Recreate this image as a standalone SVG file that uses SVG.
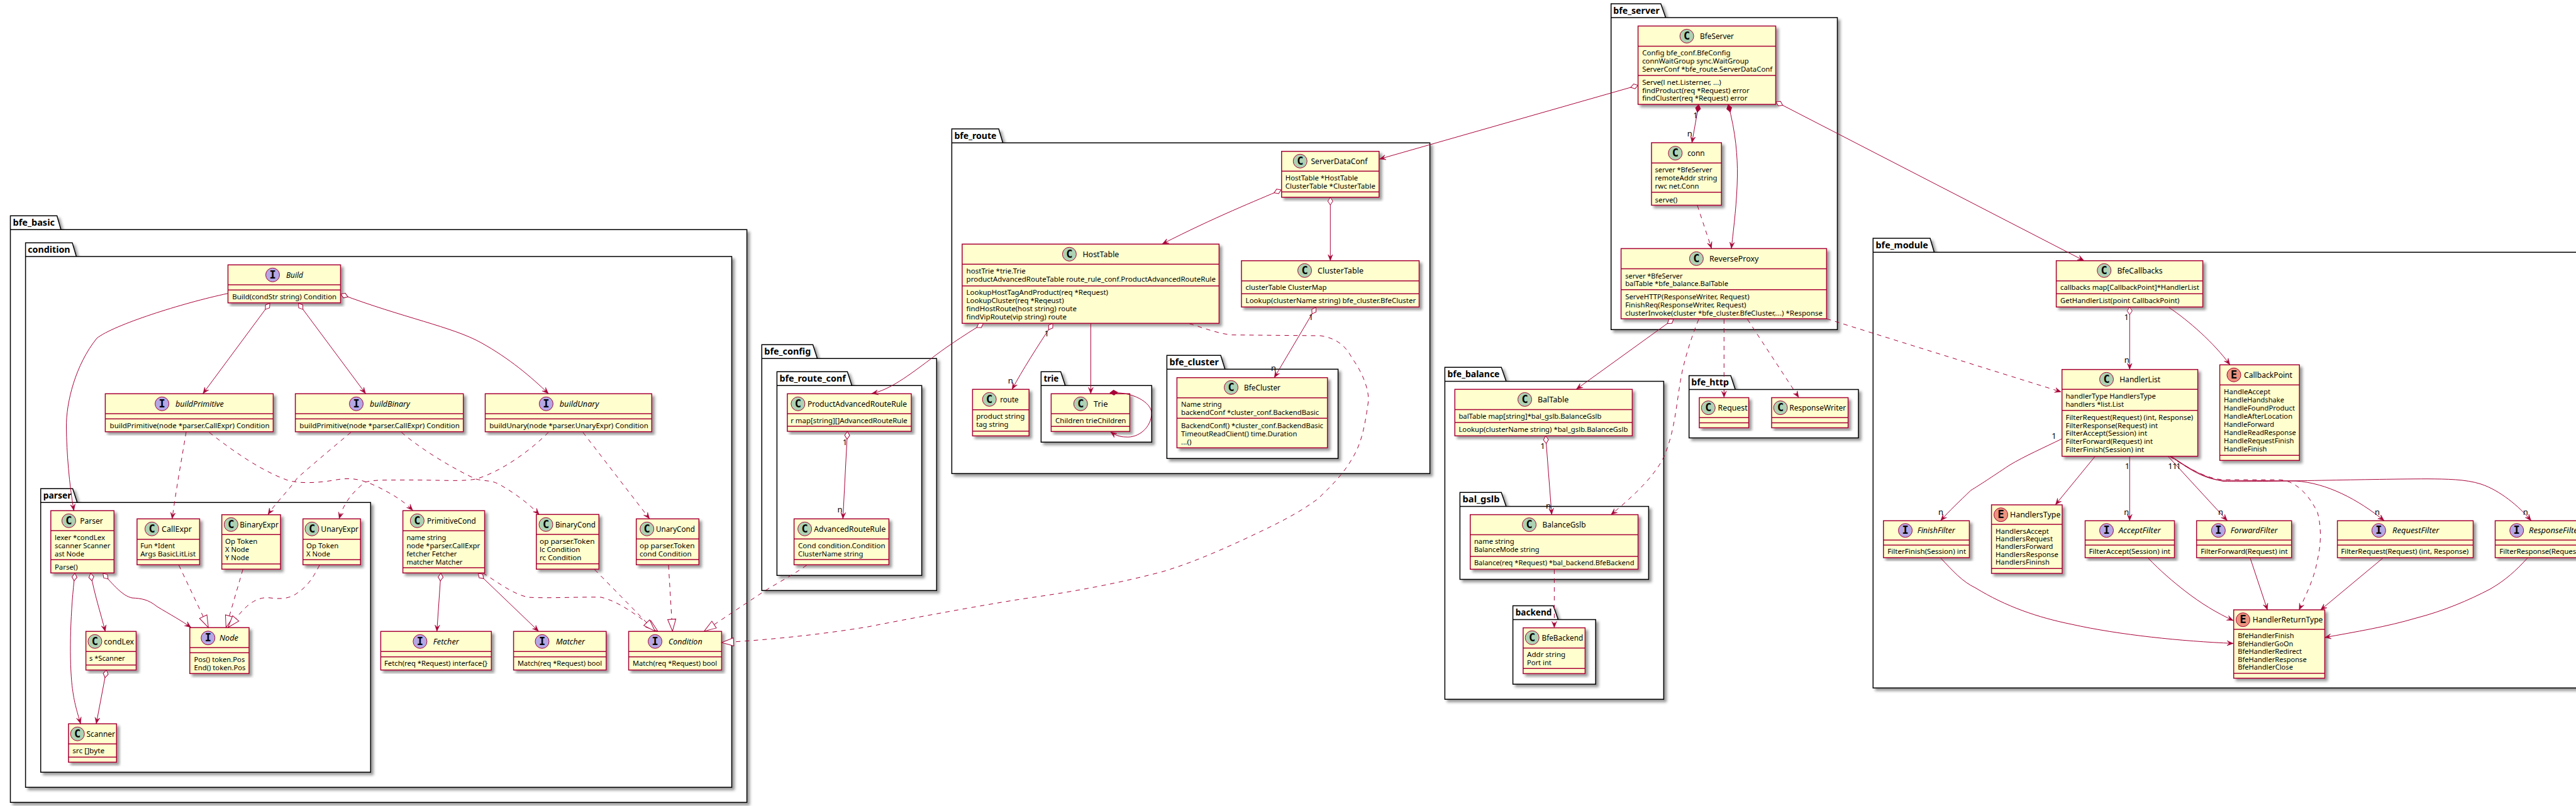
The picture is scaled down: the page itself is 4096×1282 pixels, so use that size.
<svg xmlns="http://www.w3.org/2000/svg" width="4096" height="1282" viewBox="0 0 4096 1282">
<style>
text{font-family:"Noto Sans","Open Sans","Liberation Sans",sans-serif;fill:#000}
.p{fill:#fff;stroke:#000;stroke-width:1.5;filter:url(#s)}
.pt{font-size:14px;font-weight:700}
.b{fill:#FEFECE;stroke:#A80036;stroke-width:1.5;filter:url(#s)}
.d{fill:none;stroke:#A80036;stroke-width:1.5}
.cc,.ci,.ce{stroke:#A80036;stroke-width:1}
.cc{fill:#ADD1B2}.ci{fill:#B4A7E5}.ce{fill:#EB937F}
.l{font-family:"DejaVu Sans Mono","Liberation Mono",monospace;font-size:17px;font-weight:700;text-anchor:middle}
.h{font-size:12px}.it{font-style:italic}.m{font-size:11.5px}
.c{font-size:13px;text-anchor:middle}
#connectors path{fill:none;stroke:#A80036;stroke-width:1}
#connectors .k{stroke-dasharray:7 7}
#connectors .a,#connectors .oa,#connectors .fa{marker-end:url(#ar)}
#connectors .oa{marker-start:url(#od)}
#connectors .fa{marker-start:url(#fd)}
#connectors .t{marker-end:url(#tr)}
</style>
<defs>
<filter id="s" x="-5%" y="-5%" width="115%" height="115%"><feDropShadow dx="4" dy="4" stdDeviation="2" flood-color="#000" flood-opacity="0.4"/></filter>
<marker id="ar" markerUnits="userSpaceOnUse" markerWidth="12" markerHeight="12" refX="10" refY="6" orient="auto"><path d="M10,6L0,2L4,6L0,10Z" fill="#A80036" stroke="#A80036" stroke-width="0.5"/></marker>
<marker id="od" markerUnits="userSpaceOnUse" markerWidth="14" markerHeight="12" refX="1" refY="6" orient="auto"><path d="M1,6L7,2L13,6L7,10Z" fill="#fff" stroke="#A80036" stroke-width="1"/></marker>
<marker id="fd" markerUnits="userSpaceOnUse" markerWidth="14" markerHeight="12" refX="1" refY="6" orient="auto"><path d="M1,6L7,2L13,6L7,10Z" fill="#A80036" stroke="#A80036" stroke-width="1"/></marker>
<marker id="tr" markerUnits="userSpaceOnUse" markerWidth="22" markerHeight="18" refX="20" refY="9" orient="auto"><path d="M1,2.5L20,9L1,15.5Z" fill="#fff" stroke="#A80036" stroke-width="1"/></marker>
</defs>
<rect width="4096" height="1282" fill="#fff"/>

<g id="packages">
<g id="pkg_bfe_basic"><path class="p" d="M16.5,365.3V343.3H90.6L96.9,365.3H1187.6V1276.3H16.5ZM16.5,365.3H96.9"/><text class="pt" x="20.5" y="359" textLength="66.5" lengthAdjust="spacingAndGlyphs">bfe_basic</text></g>
<g id="pkg_condition"><path class="p" d="M40.6,408V386.3H115L121.4,408H1163.5V1252.3H40.6ZM40.6,408H121.4"/><text class="pt" x="44.2" y="402" textLength="67.4" lengthAdjust="spacingAndGlyphs">condition</text></g>
<g id="pkg_parser"><path class="p" d="M64.7,799.3V777.3H115.6L122.8,799.3H589.3V1228.3H64.7ZM64.7,799.3H122.8"/><text class="pt" x="68.8" y="793" textLength="44.6" lengthAdjust="spacingAndGlyphs">parser</text></g>
<g id="pkg_bfe_config"><path class="p" d="M1211.3,570.3V548.3H1292.5L1299.6,570.3H1489.3V939.3H1211.3ZM1211.3,570.3H1299.6"/><text class="pt" x="1215.3" y="564" textLength="74" lengthAdjust="spacingAndGlyphs">bfe_config</text></g>
<g id="pkg_bfe_route_conf"><path class="p" d="M1235.4,613.3V591.3H1347.4L1354.5,613.3H1465.6V915.3H1235.4ZM1235.4,613.3H1354.5"/><text class="pt" x="1239.4" y="607" textLength="105.4" lengthAdjust="spacingAndGlyphs">bfe_route_conf</text></g>
<g id="pkg_bfe_route"><path class="p" d="M1513.4,227.3V205H1588L1594.6,227.3H2273.6V753.3H1513.4ZM1513.4,227.3H1594.6"/><text class="pt" x="1517.4" y="221" textLength="67" lengthAdjust="spacingAndGlyphs">bfe_route</text></g>
<g id="pkg_trie"><path class="p" d="M1655.4,613.3V591.3H1686.6L1693.8,613.3H1831.3V703.3H1655.4ZM1655.4,613.3H1693.8"/><text class="pt" x="1659.4" y="607" textLength="24" lengthAdjust="spacingAndGlyphs">trie</text></g>
<g id="pkg_bfe_cluster"><path class="p" d="M1855.4,587.3V565.3H1941L1947.8,587.3H2127.6V729.3H1855.4ZM1855.4,587.3H1947.8"/><text class="pt" x="1859.4" y="581" textLength="78.6" lengthAdjust="spacingAndGlyphs">bfe_cluster</text></g>
<g id="pkg_bfe_server"><path class="p" d="M2561.7,27.9V6H2640.8L2648.5,27.9H2921.5V524.3H2561.7ZM2561.7,27.9H2648.5"/><text class="pt" x="2565.3" y="22" textLength="73.5" lengthAdjust="spacingAndGlyphs">bfe_server</text></g>
<g id="pkg_bfe_balance"><path class="p" d="M2297.4,606.4V584.3H2387.2L2394.9,606.4H2645.4V1112.2H2297.4ZM2297.4,606.4H2394.9"/><text class="pt" x="2301.5" y="600" textLength="83" lengthAdjust="spacingAndGlyphs">bfe_balance</text></g>
<g id="pkg_bal_gslb"><path class="p" d="M2321.4,805.4V783.2H2387.2L2394.9,805.4H2621.4V921.4H2321.4ZM2321.4,805.4H2394.9"/><text class="pt" x="2325.5" y="799" textLength="59" lengthAdjust="spacingAndGlyphs">bal_gslb</text></g>
<g id="pkg_backend"><path class="p" d="M2405.6,985.4V963.6H2469.9L2477.6,985.4H2537.2V1088.2H2405.6ZM2405.6,985.4H2477.6"/><text class="pt" x="2409.7" y="979" textLength="57.6" lengthAdjust="spacingAndGlyphs">backend</text></g>
<g id="pkg_bfe_http"><path class="p" d="M2685.7,619.6V597.5H2752L2759.2,619.6H2955V696.4H2685.7ZM2685.7,619.6H2759.2"/><text class="pt" x="2689.3" y="613" textLength="59.7" lengthAdjust="spacingAndGlyphs">bfe_http</text></g>
<g id="pkg_bfe_module"><path class="p" d="M2978.3,401.3V379H3069L3075.5,401.3H4160V1094.3H2978.3ZM2978.3,401.3H3075.5"/><text class="pt" x="2982.5" y="395" textLength="83.4" lengthAdjust="spacingAndGlyphs">bfe_module</text></g>
</g>

<g id="Build"><rect class="b" x="362.5" y="421.3" width="179" height="60.4"/><path class="d" d="M362.5,453H541.5M362.5,461.3H541.5"/><circle class="ci" cx="433.5" cy="437.3" r="11"/><text class="l" x="433.5" y="443">I</text><text class="h it" x="455" y="441.8" textLength="27" lengthAdjust="spacingAndGlyphs">Build</text><text class="m" x="369.2" y="476" textLength="166" lengthAdjust="spacingAndGlyphs">Build(condStr string) Condition</text></g>
<g id="buildPrimitive"><rect class="b" x="167.4" y="626.3" width="267" height="60.4"/><path class="d" d="M167.4,658H434.4M167.4,666.3H434.4"/><circle class="ci" cx="257.6" cy="642.3" r="11"/><text class="l" x="257.6" y="648">I</text><text class="h it" x="279" y="646.8" textLength="76.8" lengthAdjust="spacingAndGlyphs">buildPrimitive</text><text class="m" x="174.6" y="681" textLength="254" lengthAdjust="spacingAndGlyphs">buildPrimitive(node *parser.CallExpr) Condition</text></g>
<g id="buildBinary"><rect class="b" x="469.6" y="626.3" width="267.1" height="60.4"/><path class="d" d="M469.6,658H736.7M469.6,666.3H736.7"/><circle class="ci" cx="566.5" cy="642.3" r="11"/><text class="l" x="566.5" y="648">I</text><text class="h it" x="588" y="646.8" textLength="63.8" lengthAdjust="spacingAndGlyphs">buildBinary</text><text class="m" x="476.3" y="681" textLength="254.6" lengthAdjust="spacingAndGlyphs">buildPrimitive(node *parser.CallExpr) Condition</text></g>
<g id="buildUnary"><rect class="b" x="771.5" y="626.3" width="264.8" height="60.4"/><path class="d" d="M771.5,658H1036.3M771.5,666.3H1036.3"/><circle class="ci" cx="868.4" cy="642.3" r="11"/><text class="l" x="868.4" y="648">I</text><text class="h it" x="889.8" y="646.8" textLength="62.5" lengthAdjust="spacingAndGlyphs">buildUnary</text><text class="m" x="778.2" y="681" textLength="252.7" lengthAdjust="spacingAndGlyphs">buildUnary(node *parser.UnaryExpr) Condition</text></g>

<g id="Parser"><rect class="b" x="80.8" y="812.3" width="100.5" height="99"/><path class="d" d="M80.8,844H181.3M80.8,890.3H181.3"/><circle class="cc" cx="109.4" cy="828.3" r="11"/><text class="l" x="109.4" y="834">C</text><text class="h" x="127.2" y="833" textLength="36.6" lengthAdjust="spacingAndGlyphs">Parser</text><text class="m" x="87" y="859.3" textLength="80" lengthAdjust="spacingAndGlyphs">lexer *condLex</text><text class="m" x="87" y="872.3" textLength="88.4" lengthAdjust="spacingAndGlyphs">scanner Scanner</text><text class="m" x="87" y="885.3" textLength="47" lengthAdjust="spacingAndGlyphs">ast Node</text><text class="m" x="87" y="906.3" textLength="36.6" lengthAdjust="spacingAndGlyphs">Parse()</text></g>
<g id="CallExpr"><rect class="b" x="217.9" y="825.3" width="99.5" height="73"/><path class="d" d="M217.9,857.7H317.4M217.9,890.3H317.4"/><circle class="cc" cx="241.5" cy="841.3" r="11"/><text class="l" x="241.5" y="847">C</text><text class="h" x="257" y="846" textLength="48" lengthAdjust="spacingAndGlyphs">CallExpr</text><text class="m" x="223.2" y="872.3" textLength="55" lengthAdjust="spacingAndGlyphs">Fun *Ident</text><text class="m" x="223.2" y="885.3" textLength="88" lengthAdjust="spacingAndGlyphs">Args BasicLitList</text></g>
<g id="BinaryExpr"><rect class="b" x="352.7" y="818.7" width="93.3" height="86.6"/><path class="d" d="M352.7,850.3H446M352.7,897H446"/><circle class="cc" cx="367.4" cy="834.3" r="11"/><text class="l" x="367.4" y="840">C</text><text class="h" x="381.3" y="839" textLength="61.6" lengthAdjust="spacingAndGlyphs">BinaryExpr</text><text class="m" x="358" y="865.3" textLength="51.3" lengthAdjust="spacingAndGlyphs">Op Token</text><text class="m" x="358" y="878.3" textLength="38" lengthAdjust="spacingAndGlyphs">X Node</text><text class="m" x="358" y="891.3" textLength="38" lengthAdjust="spacingAndGlyphs">Y Node</text></g>
<g id="UnaryExpr"><rect class="b" x="481.7" y="825.3" width="91.5" height="73"/><path class="d" d="M481.7,857.7H573.2M481.7,890.3H573.2"/><circle class="cc" cx="496" cy="841.3" r="11"/><text class="l" x="496" y="847">C</text><text class="h" x="510.3" y="846" textLength="59.8" lengthAdjust="spacingAndGlyphs">UnaryExpr</text><text class="m" x="487" y="872.3" textLength="51.3" lengthAdjust="spacingAndGlyphs">Op Token</text><text class="m" x="487" y="885.3" textLength="38" lengthAdjust="spacingAndGlyphs">X Node</text></g>
<g id="Node"><rect class="b" x="301.8" y="998.3" width="94.2" height="73"/><path class="d" d="M301.8,1030H396M301.8,1038.3H396"/><circle class="ci" cx="330.8" cy="1014.7" r="11"/><text class="l" x="330.8" y="1020.4">I</text><text class="h it" x="349" y="1019" textLength="30" lengthAdjust="spacingAndGlyphs">Node</text><text class="m" x="308.5" y="1053.3" textLength="80.8" lengthAdjust="spacingAndGlyphs">Pos() token.Pos</text><text class="m" x="308.5" y="1066.3" textLength="82" lengthAdjust="spacingAndGlyphs">End() token.Pos</text></g>
<g id="condLex"><rect class="b" x="136.6" y="1004.3" width="79.9" height="61.4"/><path class="d" d="M136.6,1036.3H216.5M136.6,1057.7H216.5"/><circle class="cc" cx="150.9" cy="1020.3" r="11"/><text class="l" x="150.9" y="1026">C</text><text class="h" x="165.2" y="1025" textLength="47.8" lengthAdjust="spacingAndGlyphs">condLex</text><text class="m" x="142" y="1051.3" textLength="56.7" lengthAdjust="spacingAndGlyphs">s *Scanner</text></g>
<g id="Scanner"><rect class="b" x="108.9" y="1151.3" width="76.4" height="61"/><path class="d" d="M108.9,1183.3H185.3M108.9,1204.3H185.3"/><circle class="cc" cx="123.2" cy="1167.3" r="11"/><text class="l" x="123.2" y="1173">C</text><text class="h" x="137.5" y="1172" textLength="45.5" lengthAdjust="spacingAndGlyphs">Scanner</text><text class="m" x="115.2" y="1198.3" textLength="51" lengthAdjust="spacingAndGlyphs">src []byte</text></g>
<g id="PrimitiveCond"><rect class="b" x="640.6" y="812.3" width="130" height="99"/><path class="d" d="M640.6,844.3H770.6M640.6,903H770.6"/><circle class="cc" cx="663.4" cy="828.3" r="11"/><text class="l" x="663.4" y="834">C</text><text class="h" x="679" y="833" textLength="77.8" lengthAdjust="spacingAndGlyphs">PrimitiveCond</text><text class="m" x="646.4" y="859.3" textLength="63" lengthAdjust="spacingAndGlyphs">name string</text><text class="m" x="646.4" y="872.3" textLength="117" lengthAdjust="spacingAndGlyphs">node *parser.CallExpr</text><text class="m" x="646.4" y="885.3" textLength="80" lengthAdjust="spacingAndGlyphs">fetcher Fetcher</text><text class="m" x="646.4" y="898.3" textLength="89" lengthAdjust="spacingAndGlyphs">matcher Matcher</text></g>
<g id="BinaryCond"><rect class="b" x="852.8" y="818.3" width="99.5" height="87"/><path class="d" d="M852.8,850H952.3M852.8,896.7H952.3"/><circle class="cc" cx="868" cy="834.3" r="11"/><text class="l" x="868" y="840">C</text><text class="h" x="883" y="839" textLength="63.8" lengthAdjust="spacingAndGlyphs">BinaryCond</text><text class="m" x="858" y="865.3" textLength="87.5" lengthAdjust="spacingAndGlyphs">op parser.Token</text><text class="m" x="858" y="878.3" textLength="64.3" lengthAdjust="spacingAndGlyphs">lc Condition</text><text class="m" x="858" y="891.3" textLength="66.4" lengthAdjust="spacingAndGlyphs">rc Condition</text></g>
<g id="UnaryCond"><rect class="b" x="1011.7" y="825.3" width="99.6" height="73"/><path class="d" d="M1011.7,857.3H1111.3M1011.7,890H1111.3"/><circle class="cc" cx="1028.7" cy="841.3" r="11"/><text class="l" x="1028.7" y="847">C</text><text class="h" x="1043" y="846" textLength="62" lengthAdjust="spacingAndGlyphs">UnaryCond</text><text class="m" x="1017" y="872.3" textLength="87.5" lengthAdjust="spacingAndGlyphs">op parser.Token</text><text class="m" x="1017" y="885.3" textLength="82.6" lengthAdjust="spacingAndGlyphs">cond Condition</text></g>
<g id="Fetcher"><rect class="b" x="605.4" y="1004.3" width="175.9" height="61.4"/><path class="d" d="M605.4,1036.3H781.3M605.4,1044.7H781.3"/><circle class="ci" cx="667.9" cy="1020.3" r="11"/><text class="l" x="667.9" y="1026">I</text><text class="h it" x="688.8" y="1025" textLength="41" lengthAdjust="spacingAndGlyphs">Fetcher</text><text class="m" x="611" y="1059.3" textLength="164" lengthAdjust="spacingAndGlyphs">Fetch(req *Request) interface{}</text></g>
<g id="Matcher"><rect class="b" x="816.6" y="1004.3" width="147.3" height="61.4"/><path class="d" d="M816.6,1036.3H963.9M816.6,1044.7H963.9"/><circle class="ci" cx="862" cy="1020.3" r="11"/><text class="l" x="862" y="1026">I</text><text class="h it" x="884" y="1025" textLength="46" lengthAdjust="spacingAndGlyphs">Matcher</text><text class="m" x="823" y="1059.3" textLength="134" lengthAdjust="spacingAndGlyphs">Match(req *Request) bool</text></g>
<g id="Condition"><rect class="b" x="999.6" y="1004.3" width="147.8" height="61.4"/><path class="d" d="M999.6,1036.3H1147.4M999.6,1044.7H1147.4"/><circle class="ci" cx="1041.6" cy="1020.3" r="11"/><text class="l" x="1041.6" y="1026">I</text><text class="h it" x="1063" y="1025" textLength="53.6" lengthAdjust="spacingAndGlyphs">Condition</text><text class="m" x="1006" y="1059.3" textLength="134" lengthAdjust="spacingAndGlyphs">Match(req *Request) bool</text></g>

<g id="ProductAdvancedRouteRule"><rect class="b" x="1251.9" y="626.3" width="197.1" height="59.7"/><path class="d" d="M1251.9,658H1449M1251.9,678H1449"/><circle class="cc" cx="1268.9" cy="642.3" r="11"/><text class="l" x="1268.9" y="648">C</text><text class="h" x="1284" y="647" textLength="158" lengthAdjust="spacingAndGlyphs">ProductAdvancedRouteRule</text><text class="m" x="1257.2" y="673.3" textLength="185.6" lengthAdjust="spacingAndGlyphs">r map[string][]AdvancedRouteRule</text></g>
<g id="AdvancedRouteRule"><rect class="b" x="1262.6" y="825.3" width="150.8" height="73"/><path class="d" d="M1262.6,857.3H1413.4M1262.6,890H1413.4"/><circle class="cc" cx="1279.6" cy="841.3" r="11"/><text class="l" x="1279.6" y="847">C</text><text class="h" x="1294.3" y="846" textLength="114" lengthAdjust="spacingAndGlyphs">AdvancedRouteRule</text><text class="m" x="1269" y="872.3" textLength="138.6" lengthAdjust="spacingAndGlyphs">Cond condition.Condition</text><text class="m" x="1269" y="885.3" textLength="103.4" lengthAdjust="spacingAndGlyphs">ClusterName string</text></g>

<g id="ServerDataConf"><rect class="b" x="2037.8" y="240.7" width="155" height="73"/><path class="d" d="M2037.8,272.3H2192.8M2037.8,305.3H2192.8"/><circle class="cc" cx="2067.3" cy="256.3" r="11"/><text class="l" x="2067.3" y="262">C</text><text class="h" x="2084.4" y="261" textLength="90" lengthAdjust="spacingAndGlyphs">ServerDataConf</text><text class="m" x="2043.7" y="287.3" textLength="115.6" lengthAdjust="spacingAndGlyphs">HostTable *HostTable</text><text class="m" x="2043.7" y="300.3" textLength="143.2" lengthAdjust="spacingAndGlyphs">ClusterTable *ClusterTable</text></g>
<g id="HostTable"><rect class="b" x="1529.9" y="388.3" width="408.5" height="126"/><path class="d" d="M1529.9,420.3H1938.4M1529.9,454.7H1938.4"/><circle class="cc" cx="1700.4" cy="404.3" r="11"/><text class="l" x="1700.4" y="410">C</text><text class="h" x="1721.4" y="409" textLength="58" lengthAdjust="spacingAndGlyphs">HostTable</text><text class="m" x="1536.6" y="435" textLength="94.2" lengthAdjust="spacingAndGlyphs">hostTrie *trie.Trie</text><text class="m" x="1536.6" y="448" textLength="396.4" lengthAdjust="spacingAndGlyphs">productAdvancedRouteTable route_rule_conf.ProductAdvancedRouteRule</text><text class="m" x="1536.6" y="469.3" textLength="225.4" lengthAdjust="spacingAndGlyphs">LookupHostTagAndProduct(req *Request)</text><text class="m" x="1536.6" y="482.3" textLength="155" lengthAdjust="spacingAndGlyphs">LookupCluster(req *Reqeust)</text><text class="m" x="1536.6" y="495.3" textLength="175.4" lengthAdjust="spacingAndGlyphs">findHostRoute(host string) route</text><text class="m" x="1536.6" y="508.3" textLength="159.4" lengthAdjust="spacingAndGlyphs">findVipRoute(vip string) route</text></g>
<g id="ClusterTable"><rect class="b" x="1974" y="414.7" width="282.5" height="73.6"/><path class="d" d="M1974,446.7H2256.5M1974,467.3H2256.5"/><circle class="cc" cx="2074.5" cy="430.3" r="11"/><text class="l" x="2074.5" y="436">C</text><text class="h" x="2095" y="435" textLength="73" lengthAdjust="spacingAndGlyphs">ClusterTable</text><text class="m" x="1980.6" y="461.3" textLength="128.8" lengthAdjust="spacingAndGlyphs">clusterTable ClusterMap</text><text class="m" x="1980.6" y="482.3" textLength="270.7" lengthAdjust="spacingAndGlyphs">Lookup(clusterName string) bfe_cluster.BfeCluster</text></g>
<g id="route"><rect class="b" x="1546.4" y="619.3" width="89.8" height="74"/><path class="d" d="M1546.4,651.7H1636.2M1546.4,685.7H1636.2"/><circle class="cc" cx="1573.2" cy="635.3" r="11"/><text class="l" x="1573.2" y="641">C</text><text class="h" x="1590.2" y="640" textLength="29.4" lengthAdjust="spacingAndGlyphs">route</text><text class="m" x="1552.2" y="666.3" textLength="77.2" lengthAdjust="spacingAndGlyphs">product string</text><text class="m" x="1552.2" y="679.3" textLength="51.3" lengthAdjust="spacingAndGlyphs">tag string</text></g>
<g id="Trie"><rect class="b" x="1671.4" y="626.3" width="125" height="60"/><path class="d" d="M1671.4,658H1796.4M1671.4,678.3H1796.4"/><circle class="cc" cx="1718.3" cy="642.3" r="11"/><text class="l" x="1718.3" y="648">C</text><text class="h" x="1738.8" y="647" textLength="22.8" lengthAdjust="spacingAndGlyphs">Trie</text><text class="m" x="1678" y="673" textLength="112.5" lengthAdjust="spacingAndGlyphs">Children trieChildren</text></g>
<g id="BfeCluster"><rect class="b" x="1871.4" y="600.7" width="239.3" height="111.6"/><path class="d" d="M1871.4,632.7H2110.7M1871.4,665.3H2110.7"/><circle class="cc" cx="1957.6" cy="616.3" r="11"/><text class="l" x="1957.6" y="622">C</text><text class="h" x="1978" y="621" textLength="58" lengthAdjust="spacingAndGlyphs">BfeCluster</text><text class="m" x="1878" y="647.3" textLength="64.7" lengthAdjust="spacingAndGlyphs">Name string</text><text class="m" x="1878" y="660.3" textLength="219.2" lengthAdjust="spacingAndGlyphs">backendConf *cluster_conf.BackendBasic</text><text class="m" x="1878" y="681.3" textLength="226" lengthAdjust="spacingAndGlyphs">BackendConf() *cluster_conf.BackendBasic</text><text class="m" x="1878" y="694.3" textLength="184.4" lengthAdjust="spacingAndGlyphs">TimeoutReadClient() time.Duration</text><text class="m" x="1878" y="706.7" textLength="16.5" lengthAdjust="spacingAndGlyphs">...()</text></g>

<g id="BfeServer"><rect class="b" x="2604.6" y="41.4" width="218.9" height="124.6"/><path class="d" d="M2604.6,73.6H2823.5M2604.6,120H2823.5"/><circle class="cc" cx="2682.1" cy="57.5" r="11"/><text class="l" x="2682.1" y="63.2">C</text><text class="h" x="2703" y="62" textLength="54" lengthAdjust="spacingAndGlyphs">BfeServer</text><text class="m" x="2611.2" y="88.3" textLength="140.3" lengthAdjust="spacingAndGlyphs">Config bfe_conf.BfeConfig</text><text class="m" x="2611.2" y="101.1" textLength="169.4" lengthAdjust="spacingAndGlyphs">connWaitGroup sync.WaitGroup</text><text class="m" x="2611.2" y="114" textLength="207" lengthAdjust="spacingAndGlyphs">ServerConf *bfe_route.ServerDataConf</text><text class="m" x="2611.2" y="135.4" textLength="125.5" lengthAdjust="spacingAndGlyphs">Serve(l net.Listerner, ...)</text><text class="m" x="2611.2" y="147.6" textLength="170.4" lengthAdjust="spacingAndGlyphs">findProduct(req *Request) error</text><text class="m" x="2611.2" y="160.4" textLength="167.3" lengthAdjust="spacingAndGlyphs">findCluster(req *Request) error</text></g>
<g id="conn"><rect class="b" x="2626" y="227" width="111.2" height="99.4"/><path class="d" d="M2626,259.3H2737.2M2626,305.7H2737.2"/><circle class="cc" cx="2663.8" cy="243.6" r="11"/><text class="l" x="2663.8" y="249.3">C</text><text class="h" x="2683.2" y="248" textLength="27.5" lengthAdjust="spacingAndGlyphs">conn</text><text class="m" x="2631.6" y="274.4" textLength="90.8" lengthAdjust="spacingAndGlyphs">server *BfeServer</text><text class="m" x="2631.6" y="287.2" textLength="99" lengthAdjust="spacingAndGlyphs">remoteAddr string</text><text class="m" x="2631.6" y="300.4" textLength="70" lengthAdjust="spacingAndGlyphs">rwc net.Conn</text><text class="m" x="2631.6" y="321.5" textLength="35.7" lengthAdjust="spacingAndGlyphs">serve()</text></g>
<g id="ReverseProxy"><rect class="b" x="2577.6" y="395.4" width="326.8" height="111.6"/><path class="d" d="M2577.6,427.5H2904.4M2577.6,460.7H2904.4"/><circle class="cc" cx="2697.4" cy="411.4" r="11"/><text class="l" x="2697.4" y="417">C</text><text class="h" x="2717.9" y="416" textLength="78.5" lengthAdjust="spacingAndGlyphs">ReverseProxy</text><text class="m" x="2584.2" y="442.6" textLength="91.3" lengthAdjust="spacingAndGlyphs">server *BfeServer</text><text class="m" x="2584.2" y="455.4" textLength="163.8" lengthAdjust="spacingAndGlyphs">balTable *bfe_balance.BalTable</text><text class="m" x="2584.2" y="476" textLength="197.4" lengthAdjust="spacingAndGlyphs">ServeHTTP(ResponseWriter, Request)</text><text class="m" x="2584.2" y="489" textLength="192.3" lengthAdjust="spacingAndGlyphs">FinishReq(ResponseWriter, Request)</text><text class="m" x="2584.2" y="501.5" textLength="313.8" lengthAdjust="spacingAndGlyphs">clusterInvoke(cluster *bfe_cluster.BfeCluster,...) *Response</text></g>

<g id="BalTable"><rect class="b" x="2313.3" y="619.3" width="282.1" height="73.9"/><path class="d" d="M2313.3,651.4H2595.4M2313.3,672.1H2595.4"/><circle class="cc" cx="2424.5" cy="635.4" r="11"/><text class="l" x="2424.5" y="641">C</text><text class="h" x="2444.9" y="640" textLength="49.5" lengthAdjust="spacingAndGlyphs">BalTable</text><text class="m" x="2319.4" y="666" textLength="227" lengthAdjust="spacingAndGlyphs">balTable map[string]*bal_gslb.BalanceGslb</text><text class="m" x="2319.4" y="687" textLength="269" lengthAdjust="spacingAndGlyphs">Lookup(clusterName string) *bal_gslb.BalanceGslb</text></g>
<g id="BalanceGslb"><rect class="b" x="2337.8" y="818.6" width="266.8" height="86.8"/><path class="d" d="M2337.8,850.4H2604.6M2337.8,885H2604.6"/><circle class="cc" cx="2431.6" cy="834.6" r="11"/><text class="l" x="2431.6" y="840.3">C</text><text class="h" x="2452.6" y="839" textLength="68.9" lengthAdjust="spacingAndGlyphs">BalanceGslb</text><text class="m" x="2343.9" y="865.4" textLength="63.8" lengthAdjust="spacingAndGlyphs">name string</text><text class="m" x="2343.9" y="878.3" textLength="103.6" lengthAdjust="spacingAndGlyphs">BalanceMode string</text><text class="m" x="2343.9" y="899.4" textLength="254.6" lengthAdjust="spacingAndGlyphs">Balance(req *Request) *bal_backend.BfeBackend</text></g>
<g id="BfeBackend"><rect class="b" x="2421.9" y="998.6" width="98.5" height="72.8"/><path class="d" d="M2421.9,1030.7H2520.4M2421.9,1063.2H2520.4"/><circle class="cc" cx="2436.2" cy="1014.3" r="11"/><text class="l" x="2436.2" y="1020">C</text><text class="h" x="2451.5" y="1019" textLength="65.8" lengthAdjust="spacingAndGlyphs">BfeBackend</text><text class="m" x="2428" y="1045.4" textLength="61.2" lengthAdjust="spacingAndGlyphs">Addr string</text><text class="m" x="2428" y="1058.3" textLength="38.8" lengthAdjust="spacingAndGlyphs">Port int</text></g>
<g id="Request"><rect class="b" x="2702" y="632.5" width="78.6" height="47.9"/><path class="d" d="M2702,664.3H2780.6M2702,672.5H2780.6"/><circle class="cc" cx="2716.3" cy="648.6" r="11"/><text class="l" x="2716.3" y="654.3">C</text><text class="h" x="2731.6" y="653" textLength="47" lengthAdjust="spacingAndGlyphs">Request</text></g>
<g id="ResponseWriter"><rect class="b" x="2817" y="632.5" width="121.6" height="47.9"/><path class="d" d="M2817,664.3H2938.6M2817,672.5H2938.6"/><circle class="cc" cx="2831.1" cy="648.6" r="11"/><text class="l" x="2831.1" y="654.3">C</text><text class="h" x="2845.3" y="653" textLength="90" lengthAdjust="spacingAndGlyphs">ResponseWriter</text></g>

<g id="BfeCallbacks"><rect class="b" x="3269.6" y="414.7" width="233" height="73.6"/><path class="d" d="M3269.6,446.7H3502.6M3269.6,467.3H3502.6"/><circle class="cc" cx="3345.7" cy="430.3" r="11"/><text class="l" x="3345.7" y="436">C</text><text class="h" x="3366.4" y="435" textLength="72.3" lengthAdjust="spacingAndGlyphs">BfeCallbacks</text><text class="m" x="3276" y="461" textLength="220.8" lengthAdjust="spacingAndGlyphs">callbacks map[CallbackPoint]*HandlerList</text><text class="m" x="3276" y="482" textLength="189.4" lengthAdjust="spacingAndGlyphs">GetHandlerList(point CallbackPoint)</text></g>
<g id="CallbackPoint"><rect class="b" x="3529.6" y="580.3" width="126.6" height="152"/><path class="d" d="M3529.6,612.3H3656.2M3529.6,724.3H3656.2"/><circle class="ce" cx="3552" cy="596.3" r="11"/><text class="l" x="3552" y="602">E</text><text class="h" x="3568" y="601" textLength="77" lengthAdjust="spacingAndGlyphs">CallbackPoint</text><text class="m" x="3536.1" y="627.3" textLength="74" lengthAdjust="spacingAndGlyphs">HandleAccept</text><text class="m" x="3536.1" y="640.3" textLength="95.8" lengthAdjust="spacingAndGlyphs">HandleHandshake</text><text class="m" x="3536.1" y="653.3" textLength="112.9" lengthAdjust="spacingAndGlyphs">HandleFoundProduct</text><text class="m" x="3536.1" y="666.3" textLength="109" lengthAdjust="spacingAndGlyphs">HandleAfterLocation</text><text class="m" x="3536.1" y="679.3" textLength="80" lengthAdjust="spacingAndGlyphs">HandleForward</text><text class="m" x="3536.1" y="692.3" textLength="114.8" lengthAdjust="spacingAndGlyphs">HandleReadResponse</text><text class="m" x="3536.1" y="705.3" textLength="111.4" lengthAdjust="spacingAndGlyphs">HandleRequestFinish</text><text class="m" x="3536.1" y="718.3" textLength="68.4" lengthAdjust="spacingAndGlyphs">HandleFinish</text></g>
<g id="HandlerList"><rect class="b" x="3278.7" y="587.7" width="215.9" height="138"/><path class="d" d="M3278.7,619.3H3494.6M3278.7,652.7H3494.6"/><circle class="cc" cx="3349.5" cy="603.3" r="11"/><text class="l" x="3349.5" y="609">C</text><text class="h" x="3370.2" y="608" textLength="65" lengthAdjust="spacingAndGlyphs">HandlerList</text><text class="m" x="3284.5" y="634.3" textLength="143.5" lengthAdjust="spacingAndGlyphs">handlerType HandlersType</text><text class="m" x="3284.5" y="647" textLength="92.6" lengthAdjust="spacingAndGlyphs">handlers *list.List</text><text class="m" x="3284.5" y="668.3" textLength="202.8" lengthAdjust="spacingAndGlyphs">FilterRequest(Request) (int, Response)</text><text class="m" x="3284.5" y="681.3" textLength="146.6" lengthAdjust="spacingAndGlyphs">FilterResponse(Request) int</text><text class="m" x="3284.5" y="693.3" textLength="129.7" lengthAdjust="spacingAndGlyphs">FilterAccept(Session) int</text><text class="m" x="3284.5" y="706.3" textLength="138.5" lengthAdjust="spacingAndGlyphs">FilterForward(Request) int</text><text class="m" x="3284.5" y="719.3" textLength="124.8" lengthAdjust="spacingAndGlyphs">FilterFinish(Session) int</text></g>
<g id="FinishFilter"><rect class="b" x="2994.8" y="828.3" width="136.6" height="58.7"/><path class="d" d="M2994.8,859H3131.4M2994.8,867H3131.4"/><circle class="ci" cx="3029.6" cy="843.7" r="11"/><text class="l" x="3029.6" y="849.4">I</text><text class="h it" x="3048.7" y="848" textLength="60" lengthAdjust="spacingAndGlyphs">FinishFilter</text><text class="m" x="3001.3" y="881" textLength="124.8" lengthAdjust="spacingAndGlyphs">FilterFinish(Session) int</text></g>
<g id="HandlersType"><rect class="b" x="3166.6" y="803" width="112.4" height="109"/><path class="d" d="M3166.6,834H3279M3166.6,904.3H3279"/><circle class="ce" cx="3181.5" cy="818.7" r="11"/><text class="l" x="3181.5" y="824.4">E</text><text class="h" x="3196" y="823" textLength="80.4" lengthAdjust="spacingAndGlyphs">HandlersType</text><text class="m" x="3173" y="848.7" textLength="85" lengthAdjust="spacingAndGlyphs">HandlersAccept</text><text class="m" x="3173" y="861" textLength="91" lengthAdjust="spacingAndGlyphs">HandlersRequest</text><text class="m" x="3173" y="873.3" textLength="91.5" lengthAdjust="spacingAndGlyphs">HandlersForward</text><text class="m" x="3173" y="886" textLength="99.9" lengthAdjust="spacingAndGlyphs">HandlersResponse</text><text class="m" x="3173" y="898.3" textLength="86" lengthAdjust="spacingAndGlyphs">HandlersFininsh</text></g>
<g id="AcceptFilter"><rect class="b" x="3315.5" y="828.3" width="142" height="58.7"/><path class="d" d="M3315.5,859H3457.5M3315.5,867H3457.5"/><circle class="ci" cx="3349.5" cy="843.7" r="11"/><text class="l" x="3349.5" y="849.4">I</text><text class="h it" x="3368.7" y="848" textLength="67" lengthAdjust="spacingAndGlyphs">AcceptFilter</text><text class="m" x="3321.6" y="881" textLength="129.4" lengthAdjust="spacingAndGlyphs">FilterAccept(Session) int</text></g>
<g id="ForwardFilter"><rect class="b" x="3492.7" y="828.3" width="151" height="58.7"/><path class="d" d="M3492.7,859H3643.7M3492.7,867H3643.7"/><circle class="ci" cx="3527.4" cy="843.7" r="11"/><text class="l" x="3527.4" y="849.4">I</text><text class="h it" x="3546.8" y="848" textLength="74.8" lengthAdjust="spacingAndGlyphs">ForwardFilter</text><text class="m" x="3499.2" y="881" textLength="138.4" lengthAdjust="spacingAndGlyphs">FilterForward(Request) int</text></g>
<g id="RequestFilter"><rect class="b" x="3716.6" y="828.3" width="215.9" height="58.7"/><path class="d" d="M3716.6,859H3932.5M3716.6,867H3932.5"/><circle class="ci" cx="3782.4" cy="843.7" r="11"/><text class="l" x="3782.4" y="849.4">I</text><text class="h it" x="3804" y="848" textLength="74.5" lengthAdjust="spacingAndGlyphs">RequestFilter</text><text class="m" x="3722.3" y="881" textLength="203" lengthAdjust="spacingAndGlyphs">FilterRequest(Request) (int, Response)</text></g>
<g id="ResponseFilter"><rect class="b" x="3967.5" y="828.3" width="159.5" height="58.7"/><path class="d" d="M3967.5,859H4127M3967.5,867H4127"/><circle class="ci" cx="4001.7" cy="843.7" r="11"/><text class="l" x="4001.7" y="849.4">I</text><text class="h it" x="4021" y="848" textLength="83" lengthAdjust="spacingAndGlyphs">ResponseFilter</text><text class="m" x="3974.3" y="881" textLength="146.6" lengthAdjust="spacingAndGlyphs">FilterResponse(Request) int</text></g>
<g id="HandlerReturnType"><rect class="b" x="3551.7" y="970" width="144.8" height="108.7"/><path class="d" d="M3551.7,1001H3696.5M3551.7,1071H3696.5"/><circle class="ce" cx="3566.5" cy="985.7" r="11"/><text class="l" x="3566.5" y="991.4">E</text><text class="h" x="3581.7" y="990" textLength="111.8" lengthAdjust="spacingAndGlyphs">HandlerReturnType</text><text class="m" x="3558.2" y="1015.3" textLength="89.3" lengthAdjust="spacingAndGlyphs">BfeHandlerFinish</text><text class="m" x="3558.2" y="1027.7" textLength="88.2" lengthAdjust="spacingAndGlyphs">BfeHandlerGoOn</text><text class="m" x="3558.2" y="1040.3" textLength="101.9" lengthAdjust="spacingAndGlyphs">BfeHandlerRedirect</text><text class="m" x="3558.2" y="1053" textLength="109.5" lengthAdjust="spacingAndGlyphs">BfeHandlerResponse</text><text class="m" x="3558.2" y="1065.3" textLength="87.8" lengthAdjust="spacingAndGlyphs">BfeHandlerClose</text></g>

<g id="connectors">
<path class="a" d="M362.5,466.7C290,482 180,517 154,538C120,580 105,640 105.5,680C106,720 110,770 117.4,812"/>
<path class="oa" d="M429,482.5L322.8,626"/>
<path class="oa" d="M474.6,482.5L581.3,626"/>
<path class="oa" d="M542,468C640,505 720,520 764.8,545C810,570 845,600 872,626"/>
<path class="a k" d="M296,687C289,730 283,760 273.7,825"/>
<path class="a k" d="M332.6,687.7C380,725 420,750 455,763C475,770 505,768 530,764C560,758 575,763 598,773C620,784 640,795 656.3,811.7"/>
<path class="a k" d="M558,687.7C525,715 490,745 473,760C455,785 438,800 426.3,818.3"/>
<path class="a k" d="M638.4,687.7C670,715 720,745 756,761.7C770,766 780,763 793,770C815,782 840,800 857.2,818.3"/>
<path class="a k" d="M872,687.7C840,720 795,750 760,761C740,767 700,763 640,763.5C610,763.7 595,763 580,767C565,780 548,795 539.3,825"/>
<path class="a k" d="M926.9,687.7L1032.7,825"/>
<path class="oa" d="M119.2,912C112,970 110,1040 114,1085C117,1115 122,1130 128.1,1151"/>
<path class="oa" d="M144.2,912C150,945 160,975 167.4,1004.3"/>
<path class="oa" d="M163.8,912C180,930 195,948 210,951C225,952 235,953 250,965C270,977 290,988 303.6,998"/>
<path class="oa" d="M169.2,1066L153.1,1151"/>
<path class="t k" d="M284.4,899L331.3,998"/>
<path class="t k" d="M386.2,905.7L359.4,998"/>
<path class="t k" d="M508,899C495,925 485,935 473,943C460,953 445,953 430,951C415,949 400,955 384,973L362.5,998"/>
<path class="oa" d="M701,912L694.7,1004"/>
<path class="oa" d="M760.4,912L856.3,1004"/>
<path class="t k" d="M768,911.5C790,925 815,945 840,950C870,952 930,949 956,950C985,957 1015,980 1046,1004"/>
<path class="t k" d="M945.6,906L1041.6,1004"/>
<path class="t k" d="M1063,899L1069.3,1004"/>
<path class="t k" d="M1282.7,899C1260,915 1240,925 1215.7,940L1119.7,1004"/>
<path class="t k" d="M1891,514.7C1915,522 1935,530 1958,532.7L2100,534C2125,538 2140,550 2150,570C2165,590 2178,620 2175.5,640C2170,680 2165,700 2156,718.6C2140,750 2120,770 2096,793C2060,820 2020,838 1980,857C1930,880 1890,897 1846,910C1760,932 1700,942 1623,953C1560,963 1440,985 1380,997C1300,1010 1220,1018 1147.5,1022"/>
<path class="oa" d="M1347.4,686.5L1340.3,825"/>
<path class="oa" d="M1563.4,514.5C1530,535 1500,555 1478.6,572C1445,597 1415,620 1386.2,626"/>
<path class="oa" d="M1674,514.5C1650,550 1625,590 1609.4,619"/>
<path class="a" d="M1734.4,514.5V626"/>
<path class="fa" d="M1765,625C1800,622 1831,640 1831,657C1831,680 1810,697 1790,695C1780,695 1773,692 1766,687"/>
<path class="oa" d="M2092.3,489L2026.3,600.5"/>
<path class="oa" d="M2037,302C2000,318 1930,346 1848.2,388"/>
<path class="oa" d="M2115.3,314V414.5"/>
<path class="oa" d="M2604.5,135.7L2193.5,253"/>
<path class="fa" d="M2701,166.5L2690.3,227"/>
<path class="fa" d="M2748,166.5C2760,210 2763,250 2762.5,280C2762,320 2757,360 2753,395"/>
<path class="a k" d="M2699,327L2721.4,395"/>
<path class="oa" d="M2824,162L3313.6,414.5"/>
<path class="oa" d="M2661,507.5L2506.6,619"/>
<path class="a k" d="M2701,508C2690,535 2682,560 2675,590C2665,640 2665,680 2646,726C2630,760 2590,795 2561.7,818.5"/>
<path class="a k" d="M2741.3,508V632"/>
<path class="a k" d="M2778.6,508L2860,632"/>
<path class="a k" d="M2904.4,507L3277.2,623.3"/>
<path class="oa" d="M2457.7,693.5L2467.3,818.3"/>
<path class="a k" d="M2471.4,906V998.3"/>
<path class="oa" d="M3386.3,488.5V587.5"/>
<path class="a" d="M3448.7,489C3480,510 3520,545 3545.6,580"/>
<path class="a" d="M3278.4,698C3250,712 3220,725 3195,740C3165,760 3150,770 3133.7,780C3115,798 3100,812 3085.9,828"/>
<path class="a" d="M3331.2,726L3268.4,802.7"/>
<path class="a" d="M3386.3,726V828"/>
<path class="a" d="M3447.5,726L3541.3,828"/>
<path class="a" d="M3451.3,726C3480,745 3500,760 3530,764L3650,765C3700,768 3750,795 3790.8,828"/>
<path class="a" d="M3453,726C3480,745 3505,760 3535,765.5C3600,767 3750,762 3860,761.7C3890,762 3920,762 3945,770C3975,780 4005,805 4024.5,828"/>
<path class="a k" d="M3450,726C3480,745 3510,762 3535,763L3625,763C3650,765 3670,785 3685,815C3692,840 3690,870 3685,890C3680,920 3667,945 3655.8,970"/>
<path class="a" d="M3085.9,887.7C3105,908 3120,925 3141,935C3190,965 3240,982 3294,993C3370,1010 3470,1020 3551,1023.4"/>
<path class="a" d="M3415.7,887.7C3435,908 3455,925 3474.3,940C3500,960 3525,975 3551,987"/>
<path class="a" d="M3578,887.7L3605.3,970"/>
<path class="a" d="M3788.9,887.7L3690,970"/>
<path class="a" d="M4018.8,887.7C4000,908 3985,922 3960,936.7C3925,955 3885,972 3842,983C3795,997 3745,1005 3696.5,1014"/>
</g>

<g id="cardinalities">
<text class="c" x="1343.4" y="708">1</text><text class="c" x="1335.4" y="814.5">n</text>
<text class="c" x="1664.3" y="535">1</text><text class="c" x="1606.7" y="609.5">n</text>
<text class="c" x="2084.4" y="508.5">1</text><text class="c" x="2025" y="589.5">n</text>
<text class="c" x="2696" y="187.5">1</text><text class="c" x="2686.7" y="217">n</text>
<text class="c" x="2453" y="714">1</text><text class="c" x="2462" y="808.8">n</text>
<text class="c" x="3381.3" y="508.8">1</text><text class="c" x="3381.7" y="576.8">n</text>
<text class="c" x="3266" y="697.8">1</text><text class="c" x="3085.9" y="818.5">n</text>
<text class="c" x="3382.5" y="746.2">1</text><text class="c" x="3381.3" y="818.5">n</text>
<text class="c" x="3451" y="746.2">1</text><text class="c" x="3531" y="818.5">n</text>
<text class="c" x="3458" y="746.2">1</text><text class="c" x="3780" y="818.5">n</text>
<text class="c" x="3464" y="746.2">1</text><text class="c" x="4015.8" y="818.5">n</text>
</g>
</svg>
